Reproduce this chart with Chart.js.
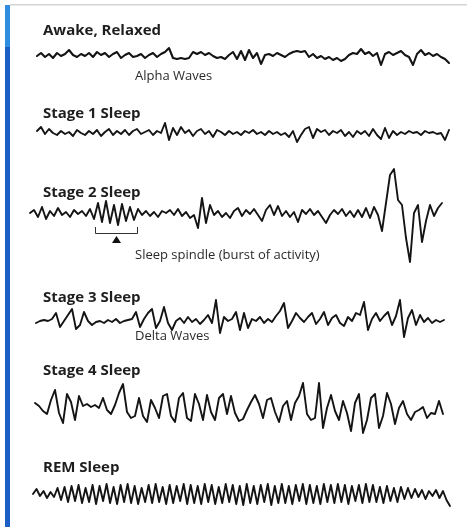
<!DOCTYPE html>
<html><head><meta charset="utf-8">
<script src="https://cdn.jsdelivr.net/npm/chart.js@4.4.0/dist/chart.umd.min.js"></script>
<style>html,body{margin:0;padding:0;background:#fff;}canvas{display:block}</style>
</head><body>
<canvas id="c" width="467" height="527"></canvas>
<script>
// ---- data (deflection of each EEG trace, up = positive, in chart units) ----
const stageTitles = ["Awake, Relaxed", "Stage 1 Sleep", "Stage 2 Sleep", "Stage 3 Sleep", "Stage 4 Sleep", "REM Sleep"];
const noteLabels = ["Alpha Waves", "Sleep spindle (burst of activity)", "Delta Waves"];

const awake = [0,3,-1,2,-2,3,0,2, 6,1, -1,2,0,3,-1, 4,1, 3,-1,2,4,-2,1, 3,-1,0,2,-2, 1,3,-1,2,4, 8,
  -2,-3,-2,-3,-2, 4,2,4,1,3,0, -2,-1,-3,1, 4,-3,5,-4,6,-2,3, -8, 1,2,0,3,1,-1,2, 4,5,4,5,
  -1,2,-2,0,-3, -1,-4,-2,-5,-3, 1,3,2,7, 2,4,0,3, -9, 2,4,1,3,5,1,-1, -9, 2,6, 1,3,0,2,-1,-3, -7];

const stage1 = [2,6,-1,4, 0,-2,2,-1,1,-3,3,0,-2, 2,-1,3,-3,1,4,-2,2, -1,3,-2,2,4,-1,1,3, -2,2,0, 10, -7,
  5,-2,6,0,3,-3,2, 4,-1,2,-4,3,1,-2,2, -1,1,-2,2,0,3,-1, 1,-2,2,-1, 1,-2,0,-4,2, -9, -2,4, 6,-5,
  4,1,3,-2,2, 0,3,-3,1,-4,2, -1,2,-3, 4, -2,-6, 5,-5, 2,-2,1,-1,2, 0,1,-2,2,0,1,-1, 0, -7, 3];

const stage2 = [0,3,-4,6,-6,2,-3,5,-2,1,-4,3,-1,2,-3, 4,-6,10,-9,12,-10,8,-12,9,-8, 6,-7,4,
  -2,2,-3,1,-4,2,0,3,-2,4,-3,1,-5, -2, -15, 15, -10, 8, -2,2,-4,0, -5,2,5,-3,3,-1,4,-2,-8,
  3,8,-2,7,-3,2,-4,1, -9,3,-1,4,-2,2,-4,-10, -2,3,-1,4,-3,2, -4,3,-4,5,-5,6,-2,
  -18, 10, 38, 44, 13, 8, -25, -49, 0, 8, -29, -8, 8, -3, 5, 10];

const stage3 = [-2,0,1,0,2, 8,-6,0,6,12,-8,-4,9,0,-4, -1,0,-2,1,-1,2,-2,0,1, 2,9,-6,2,8,12,-7,0,14,-2,-9,
  0,3,-2,4,-1,2,-3,1, 6,-2,21,-12,4,0,2,9,-9,8,-7,2,0,4,-2,2,-1,5,10,18,-7,0,8,3,-1,4,8,-3,2,9,-4,
  3,6,-2,-5,4,0,8,6,19,-9,2,8,0,5,9,-4,5,21,-16,3,11,-4,6,-1,3,-2,1,-1,1];

const stage4 = [5,2,-3,-6,8,18,-5,-15,14,6,-12,12,2,4,1,3,0,10,-2,-6,3,15,24,-4,-10,-8,10,-8,-14,8,
  0,-10,12,14,-8,-14,10,15,-10,-13,14,4,-12,13,-4,-12,10,14,-6,12,-5,-13,-11,-2,6,13,4,-10,8,10,
  -4,-14,2,7,-12,5,12,25,-6,-12,-10,25,-20,0,13,-3,-12,7,-5,-23,5,14,-25,-12,10,14,-20,-8,15,4,
  -16,0,7,-6,-12,-4,-2,1,-10,-5,-6,7,-6];

const remSleep = [0,5,-2,3,-4,2,-3,6,-6,7, -8,8,-7,9,-9,6,-8,9,-10,8, -7,10,-9,7,-10,9,-8,10,-9,8,
  -10,6,-8,9,-9,10,-8,7,-10,9, -9,8,-7,10,-10,9,-9,8,-10,10, -8,9,-10,7,-9,10,-8,9,-10,8,
  -11,10,-9,8,-10,9,-8,10,-11,8, -9,10,-9,8,-10,9,-7,10,-10,9, -9,8,-10,10,-8,9,-9,10,-8,9,
  -10,8,-7,9,-9,10,-8,9,-8,7, -9,8,-7,6,-8,7,-5,6,-4,5, -3,4,-5,3,-2,4,-4,3,-6,-12];

// ---- layout (positions / styles) ----
const traceLayout = [
  {vals: awake,    x0: 37, x1: 449, base: 56,  w: 2.1},
  {vals: stage1,   x0: 37, x1: 449, base: 133, w: 1.9},
  {vals: stage2,   x0: 30, x1: 442, base: 213, w: 1.9},
  {vals: stage3,   x0: 36, x1: 444, base: 321, w: 1.9},
  {vals: stage4,   x0: 35, x1: 443, base: 408, w: 1.9},
  {vals: remSleep, x0: 33, x1: 450, base: 494, w: 1.9}
];
const titlePos = [35, 118, 197, 302, 375, 472];
const notePos = [[135, 80], [135, 259], [135, 340]];

const datasets = traceLayout.map(t => ({
  data: t.vals.map((v, i) => ({x: t.x0 + i * (t.x1 - t.x0) / (t.vals.length - 1), y: t.base - v})),
  borderColor: '#141414',
  borderWidth: t.w,
  pointRadius: 0,
  tension: 0,
  borderJoinStyle: 'round',
  borderCapStyle: 'round',
  fill: false
}));

const decor = {
  id: 'decor',
  beforeDraw(chart) {
    const c = chart.ctx;
    c.save();
    c.fillStyle = '#fff';
    c.fillRect(0, 0, chart.width, chart.height);
    c.fillStyle = '#2f8ddf';
    c.fillRect(5, 5, 5, 42);
    c.fillStyle = '#1b5fc6';
    c.fillRect(5, 47, 5, chart.height - 47);
    c.fillStyle = '#d4d4d4';
    c.fillRect(10, 4, chart.width - 10, 1.5);
    c.restore();
  },
  afterDatasetsDraw(chart) {
    const c = chart.ctx, xs = chart.scales.x, ys = chart.scales.y;
    c.save();
    c.fillStyle = '#1e1e1e';
    c.textBaseline = 'alphabetic';
    c.textAlign = 'left';
    c.font = 'bold 15px "Open Sans", "Noto Sans", sans-serif';
    stageTitles.forEach((t, i) => c.fillText(t, xs.getPixelForValue(43), ys.getPixelForValue(titlePos[i])));
    c.font = '13px "Open Sans", "Noto Sans", sans-serif';
    c.fillStyle = '#2a2a2a';
    noteLabels.forEach((t, i) => c.fillText(t, xs.getPixelForValue(notePos[i][0]), ys.getPixelForValue(notePos[i][1])));
    // spindle bracket
    c.strokeStyle = '#333';
    c.lineWidth = 1;
    c.beginPath();
    c.moveTo(xs.getPixelForValue(95.5), ys.getPixelForValue(227));
    c.lineTo(xs.getPixelForValue(95.5), ys.getPixelForValue(233.5));
    c.lineTo(xs.getPixelForValue(137.5), ys.getPixelForValue(233.5));
    c.lineTo(xs.getPixelForValue(137.5), ys.getPixelForValue(227));
    c.stroke();
    c.fillStyle = '#111';
    c.beginPath();
    c.moveTo(xs.getPixelForValue(116.5), ys.getPixelForValue(236));
    c.lineTo(xs.getPixelForValue(112), ys.getPixelForValue(243));
    c.lineTo(xs.getPixelForValue(121), ys.getPixelForValue(243));
    c.closePath();
    c.fill();
    c.restore();
  }
};

new Chart(document.getElementById('c'), {
  type: 'line',
  data: {datasets},
  options: {
    responsive: false,
    animation: false,
    devicePixelRatio: 1,
    layout: {padding: 0},
    plugins: {legend: {display: false}, tooltip: {enabled: false}, title: {display: false}},
    scales: {
      x: {type: 'linear', min: 0, max: 467, display: false},
      y: {type: 'linear', min: 0, max: 527, reverse: true, display: false}
    }
  },
  plugins: [decor]
});
</script>
</body></html>
